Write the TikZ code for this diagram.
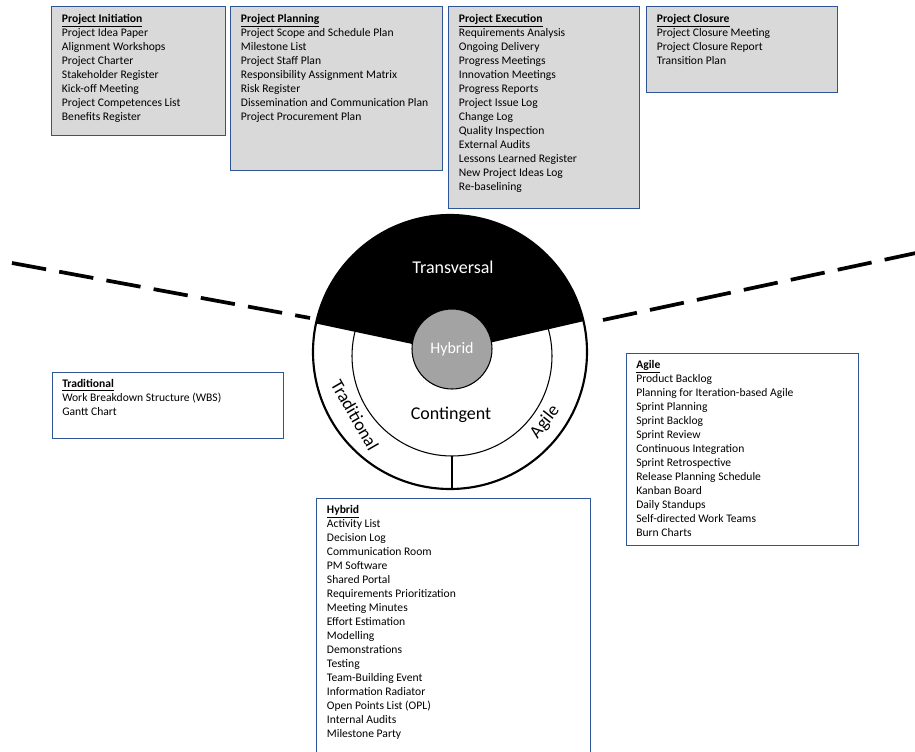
\documentclass[tikz,border=0pt]{standalone}
\usepackage{fontspec}
\setmainfont{Carlito}
\usepackage{tikz}
\usetikzlibrary{positioning}
\definecolor{boxblue}{RGB}{47,85,151}
\definecolor{boxgray}{RGB}{217,217,217}
\definecolor{hubgray}{RGB}{163,163,163}
\newcommand{\head}[1]{\textbf{\underline{#1}}}

\begin{document}
\begin{tikzpicture}[x=0.75pt,y=-0.75pt,
   phase/.style={draw=boxblue,line width=1.1pt,fill=boxgray,anchor=north west,inner sep=0pt},
   group/.style={phase,fill=white},
   items/.style={inner sep=0pt,align=left,font=\fontsize{8.7}{10.5}\selectfont},
   big/.style={font=\fontsize{13.5}{16}\selectfont},
   divider/.style={line width=2.8pt,dash pattern=on 26pt off 10pt}]
   \clip (0,0) rectangle (915,752);
   \node[phase,minimum width=130.5pt,minimum height=96.75pt] (init) at (51,6) {};
   \node[phase,minimum width=159pt,minimum height=123pt] (plan) at (230,6) {};
   \node[phase,minimum width=143.25pt,minimum height=151.5pt] (exec) at (448,6) {};
   \node[phase,minimum width=143.25pt,minimum height=64.5pt] (close) at (646,6) {};
   \node[group,minimum width=173.25pt,minimum height=49.5pt] (trad) at (52,372) {};
   \node[group,minimum width=174pt,minimum height=144pt] (agile) at (626,353) {};
   \node[group,minimum width=205.5pt,minimum height=210pt] (hyb) at (316,498) {};
   \node[items,below right=5.8pt and 8pt of init.north west] (init_t) {\head{Project Initiation}\\Project Idea Paper\\Alignment Workshops\\Project Charter\\Stakeholder Register\\Kick-off Meeting\\Project Competences List\\Benefits Register};
   \node[items,below right=5.8pt and 8pt of plan.north west] (plan_t) {\head{Project Planning}\\Project Scope and Schedule Plan\\Milestone List\\Project Staff Plan\\Responsibility Assignment Matrix\\Risk Register\\Dissemination and Communication Plan\\Project Procurement Plan};
   \node[items,below right=5.8pt and 8pt of exec.north west] (exec_t) {\head{Project Execution}\\Requirements Analysis\\Ongoing Delivery\\Progress Meetings\\Innovation Meetings\\Progress Reports\\Project Issue Log\\Change Log\\Quality Inspection\\External Audits\\Lessons Learned Register\\New Project Ideas Log\\Re-baselining};
   \node[items,below right=5.8pt and 8pt of close.north west] (close_t) {\head{Project Closure}\\Project Closure Meeting\\Project Closure Report\\Transition Plan};
   \node[items,below right=5.6pt and 7.5pt of trad.north west] (trad_t) {\head{Traditional}\\Work Breakdown Structure (WBS)\\Gantt Chart};
   \node[items,below right=5.6pt and 7.5pt of agile.north west] (agile_t) {\head{Agile}\\Product Backlog\\Planning for Iteration-based Agile\\Sprint Planning\\Sprint Backlog\\Sprint Review\\Continuous Integration\\Sprint Retrospective\\Release Planning Schedule\\Kanban Board\\Daily Standups\\Self-directed Work Teams\\Burn Charts};
   \node[items,below right=5.6pt and 8pt of hyb.north west] (hyb_t) {\head{Hybrid}\\Activity List\\Decision Log\\Communication Room\\PM Software\\Shared Portal\\Requirements Prioritization\\Meeting Minutes\\Effort Estimation\\Modelling\\Demonstrations\\Testing\\Team-Building Event\\Information Radiator\\Open Points List (OPL)\\Internal Audits\\Milestone Party};
   \coordinate (cut_l1) at (12,263);
   \coordinate (cut_l2) at (310,318);
   \coordinate (cut_r1) at (603,320);
   \coordinate (cut_r2) at (930,250);
   \draw[divider] (cut_l1) -- (cut_l2);
   \draw[divider] (cut_r1) -- (cut_r2);
   \begin{scope}[shift={(450,352)},x=0.75pt,y=0.75pt]
      \draw[line width=0.8pt] (2,-4) circle[radius=100];
      \draw[line width=1.6pt] (2,-104) -- (2,-137);
      \fill (0,0) -- (13:137) arc[start angle=13,end angle=168,radius=137] -- cycle;
      \draw[line width=1.6pt] (0,0) circle[radius=137];
      \node[circle,draw,line width=0.8pt,fill=hubgray,minimum size=60pt,inner sep=0pt,text=white,font=\fontsize{12}{14}\selectfont] (hub) at (2,3) {Hybrid};
      \node[big,text=white] (transv) at (3,85) {Transversal};
      \node[big] (conting) at (1,-63) {Contingent};
      \node[big,rotate=-60] (tradl) at (-95,-63) {Traditional};
      \node[big,rotate=52] (agilel) at (95,-70) {Agile};
   \end{scope}
\end{tikzpicture}
\end{document}
